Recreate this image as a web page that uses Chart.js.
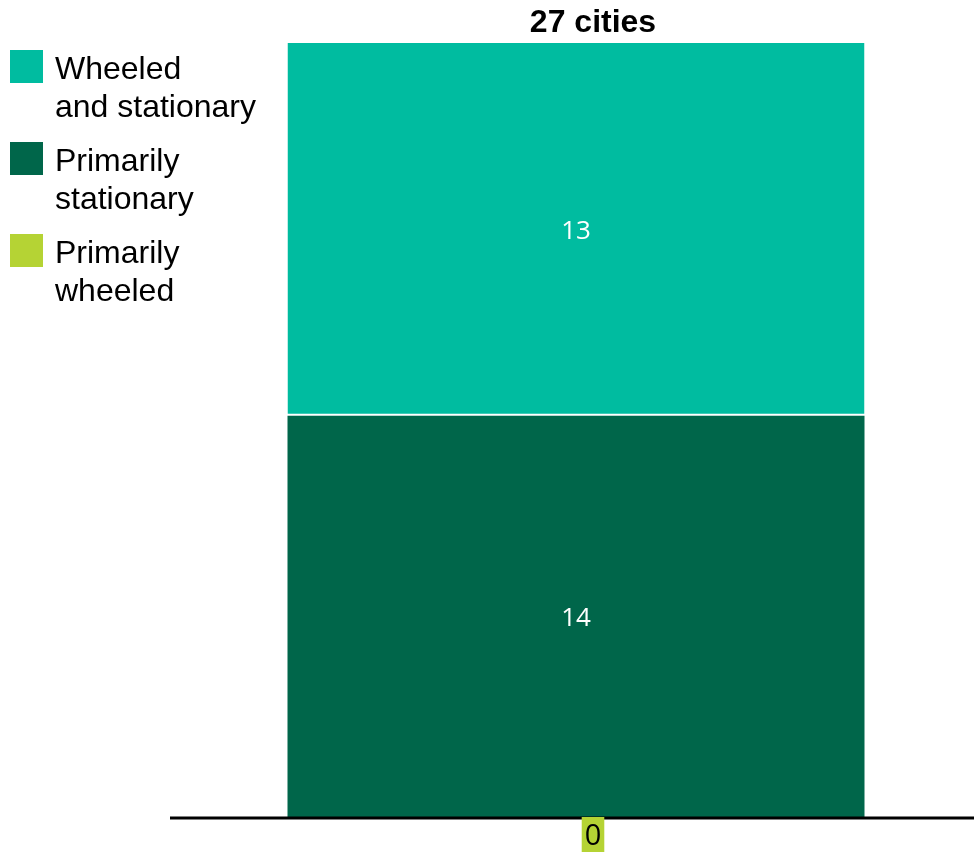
<!DOCTYPE html>
<html>
<head>
<meta charset="utf-8">
<script src="https://cdn.jsdelivr.net/npm/chart.js@4/dist/chart.umd.min.js"></script>
<style>
  body { margin: 0; background: #fff; }
  #wrap { position: relative; width: 974px; height: 852px; overflow: hidden; }
  #legend { position: absolute; left: 10px; top: 49px; font-family: "Liberation Sans", Arial, sans-serif; font-size: 32px; line-height: 38px; color: #000; }
  .item { position: relative; padding-left: 45px; margin-bottom: 16px; }
  .box { position: absolute; left: 0; top: 1px; width: 33px; height: 33px; }
</style>
</head>
<body>
<div id="wrap">
  <canvas id="grafico" width="982" height="852"></canvas>
  <div id="legend"></div>
</div>
<script>
// data
var categorias = ['27 cities'];
var series = ['Primarily wheeled', 'Primarily stationary', 'Wheeled and stationary'];
var primarilyWheeled = [0];
var primarilyStationary = [14];
var wheeledAndStationary = [13];
var colores = ['#B5D334', '#00664A', '#00BCA0'];

// legend (top to bottom)
var legendOrder = [
  { text: ['Wheeled', 'and stationary'], color: colores[2] },
  { text: ['Primarily', 'stationary'], color: colores[1] },
  { text: ['Primarily', 'wheeled'], color: colores[0] }
];
var legend = document.getElementById('legend');
for (var i = 0; i < legendOrder.length; i++) {
  var d = document.createElement('div');
  d.className = 'item';
  d.innerHTML = '<span class="box" style="background:' + legendOrder[i].color + '"></span>' + legendOrder[i].text.join('<br>');
  legend.appendChild(d);
}

var etiquetas = {
  id: 'etiquetas',
  afterDatasetsDraw: function (chart) {
    var c = chart.ctx;
    var y = chart.scales.y;
    var area = chart.chartArea;
    var base = y.getPixelForValue(0);

    // axis line
    c.save();
    c.strokeStyle = '#000';
    c.lineWidth = 3;
    c.beginPath();
    c.moveTo(area.left, base + 1);
    c.lineTo(area.right, base + 1);
    c.stroke();

    // segment values
    c.textAlign = 'center';
    c.textBaseline = 'middle';
    chart.data.datasets.forEach(function (ds, di) {
      var meta = chart.getDatasetMeta(di);
      meta.data.forEach(function (bar, j) {
        var v = ds.data[j];
        if (v > 0) {
          c.font = '26px "Open Sans", sans-serif';
          c.fillStyle = '#fff';
          c.fillText(String(v), bar.x, (bar.y + bar.base) / 2 + 2);
        } else {
          // zero label below the axis
          c.font = '29px "Open Sans", sans-serif';
          var w = c.measureText('0').width + 6;
          var cx = bar.x + 17;
          c.fillStyle = ds.backgroundColor;
          c.fillRect(cx - w / 2, base, w, 36);
          c.fillStyle = '#000';
          c.fillText('0', cx, base + 20);
        }
      });
    });

    // total on top
    var top = chart.getDatasetMeta(chart.data.datasets.length - 1).data[0];
    c.fillStyle = '#000';
    c.font = 'bold 32px "Liberation Sans", Arial, sans-serif';
    c.fillText(categorias[0], top.x + 17, top.y - 20);
    c.restore();
  }
};

var ctx = document.getElementById('grafico').getContext('2d');
var grafico = new Chart(ctx, {
  type: 'bar',
  data: {
    labels: categorias,
    datasets: [
      { label: series[0], data: primarilyWheeled, backgroundColor: colores[0] },
      { label: series[1], data: primarilyStationary, backgroundColor: colores[1] },
      { label: series[2], data: wheeledAndStationary, backgroundColor: colores[2],
        borderColor: '#fff', borderWidth: { bottom: 2 }, borderSkipped: false }
    ]
  },
  options: {
    responsive: false,
    animation: false,
    layout: { padding: { left: 170, right: 0, top: 43, bottom: 35 } },
    datasets: { bar: { categoryPercentage: 1, barPercentage: 0.7106 } },
    plugins: { legend: { display: false }, tooltip: { enabled: false } },
    scales: {
      x: { stacked: true, display: false },
      y: { stacked: true, display: false, min: 0, max: 27 }
    }
  },
  plugins: [etiquetas]
});
</script>
</body>
</html>
